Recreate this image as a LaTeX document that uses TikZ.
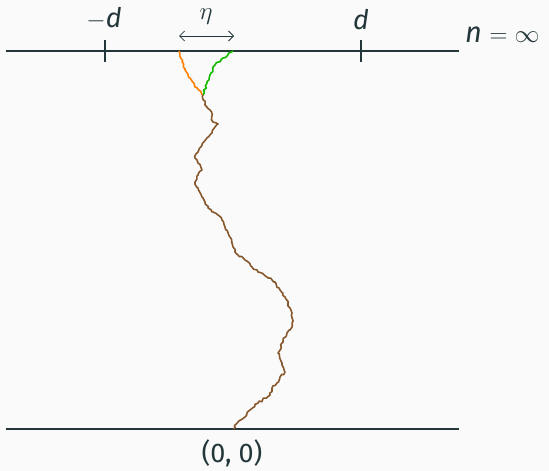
\documentclass[tikz,border=0pt]{standalone}
\usepackage{fontspec}
\setmainfont{Fira Sans}
\usetikzlibrary{decorations.pathmorphing,arrows.meta}
\definecolor{ink}{RGB}{35,55,59}
\definecolor{bg}{RGB}{250,250,250}
\definecolor{orng}{RGB}{255,127,0}
\definecolor{grn}{RGB}{20,185,0}
\definecolor{brwn}{RGB}{135,88,45}
\tikzset{
  axis/.style={ink, line width=1.1pt},
  tickmark/.style={ink, line width=1.1pt},
  lbl/.style={ink, font=\fontsize{27}{30}\selectfont, inner sep=0pt},
  barb/.style={{Straight Barb[length=5pt,width=10pt]}-{Straight Barb[length=5pt,width=10pt]}},
  walk/.style={line width=1.6pt, line join=round, decorate,
    decoration={random steps, segment length=2.4pt, amplitude=1.1pt}},
}
\begin{document}
\begin{tikzpicture}[x=1pt,y=-1pt]
\pgfmathsetseed{7}
\fill[bg] (0,0) rectangle (549,471);
\useasboundingbox (0,0) rectangle (549,471);
% horizontal lines
\coordinate (tl) at (6,51); \coordinate (tr) at (459,51);
\coordinate (bl) at (6,429); \coordinate (br) at (459,429);
\draw[axis] (tl) -- (tr);
\draw[axis] (bl) -- (br);
% ticks
\coordinate (m1) at (105,40); \coordinate (m2) at (105,62);
\coordinate (p1) at (361,40); \coordinate (p2) at (361,62);
\draw[tickmark] (m1) -- (m2);
\draw[tickmark] (p1) -- (p2);
\node[lbl] (lm) at (104,18) {$-$\textit{d}};
\node[lbl] (lp) at (361,20) {\textit{d}};
\node[lbl, anchor=west, font=\fontsize{29}{32}\selectfont] (ln) at (465,35) {\textit{n} $=\infty$};
% eta arrow
\coordinate (ea) at (179,36); \coordinate (eb) at (234,36);
\draw[ink, line width=0.8pt, barb] (ea) -- (eb);
\node[lbl, font=\fontsize{33}{35}\selectfont] (eta) at (206,17) {$\eta$};
\node[lbl] (orig) at (232,453) {(0, 0)};
% paths
\coordinate (J) at (203,95);
\draw[orng, walk] (179,51) -- (182,62) -- (185,70) -- (190,78) -- (195,87) -- (J);
\draw[grn, walk] (233,51) -- (223,58) -- (215,65) -- (210,75) -- (207,83) -- (J);
\draw[brwn, walk] (J) -- (205,105) -- (210,110) -- (213,122) -- (218,124) -- (215,127)
 -- (212,133) -- (207,138) -- (202,145) -- (198,152) -- (195,158) -- (198,163)
 -- (202,170) -- (198,175) -- (195,182) -- (198,188) -- (202,197) -- (205,202)
 -- (208,208) -- (213,212) -- (218,215) -- (222,220) -- (225,227) -- (230,237)
 -- (233,247) -- (238,255) -- (245,260) -- (252,267) -- (258,272) -- (267,277)
 -- (275,282) -- (280,290) -- (285,297) -- (288,303) -- (292,313) -- (292,327)
 -- (287,333) -- (282,343) -- (278,353) -- (282,363) -- (285,372) -- (280,377)
 -- (277,383) -- (272,388) -- (270,395) -- (258,403) -- (250,410) -- (245,417)
 -- (238,422) -- (233,429);
\end{tikzpicture}
\end{document}
